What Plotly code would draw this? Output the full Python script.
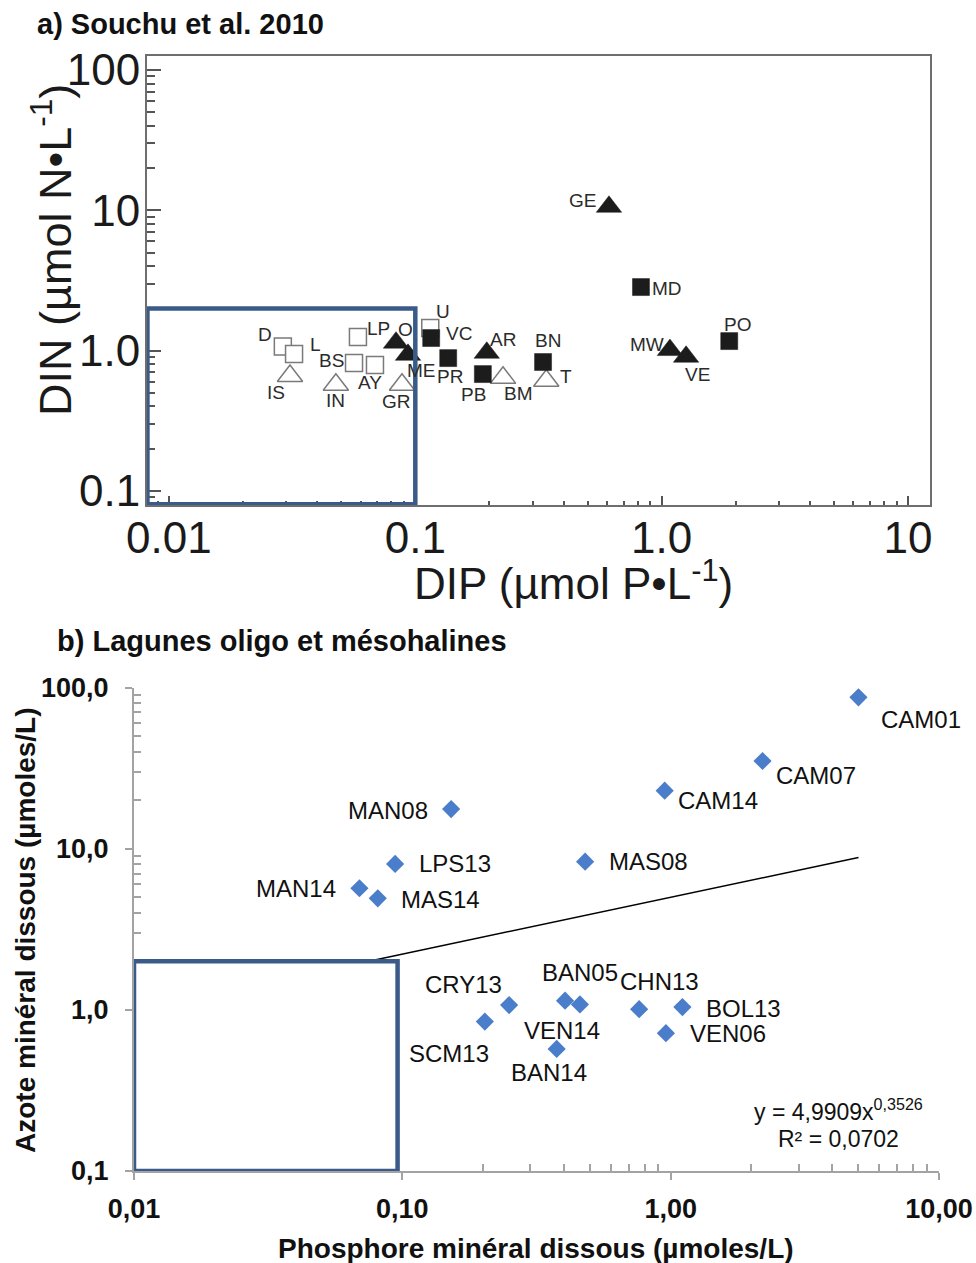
import numpy as np
import plotly.graph_objects as go

# ---------------- Panel a: Souchu et al. 2010 (DIP vs DIN, µmol/L) ----------------
open_sq_names = ["D", "L", "LP", "BS", "AY", "U"]
open_sq_dip = [0.029, 0.0322, 0.0585, 0.0564, 0.0686, 0.115]
open_sq_din = [1.07, 0.946, 1.25, 0.817, 0.789, 1.45]

open_tri_names = ["IS", "IN", "GR", "BM", "T"]
open_tri_dip = [0.031, 0.0476, 0.0883, 0.227, 0.34]
open_tri_din = [0.66, 0.571, 0.571, 0.64, 0.61]

fill_tri_names = ["O", "ME", "AR", "GE", "MW", "VE"]
fill_tri_dip = [0.0835, 0.0934, 0.195, 0.611, 1.08, 1.256]
fill_tri_din = [1.14, 0.934, 0.966, 10.6, 1.01, 0.905]

fill_sq_names = ["VC", "PR", "PB", "BN", "MD", "PO"]
fill_sq_dip = [0.116, 0.136, 0.188, 0.33, 0.824, 1.88]
fill_sq_din = [1.23, 0.885, 0.681, 0.83, 2.84, 1.17]

# ---------------- Panel b: oligo- and mesohaline lagoons ----------------
sites = ["CAM01", "CAM07", "CAM14", "MAN08", "LPS13", "MAS08", "MAN14", "MAS14",
         "CRY13", "SCM13", "BAN05", "VEN14", "CHN13", "BOL13", "VEN06", "BAN14"]
p_dissous = [5.01, 2.20, 0.95, 0.152, 0.094, 0.48, 0.0692, 0.081,
             0.25, 0.203, 0.404, 0.459, 0.763, 1.106, 0.96, 0.376]
n_dissous = [86.9, 35.0, 22.9, 17.6, 8.04, 8.3, 5.68, 4.92,
             1.07, 0.845, 1.14, 1.08, 1.01, 1.04, 0.716, 0.572]

# power-law fit y = a * x^b
fit_a = 4.9909
fit_b = 0.3526
fit_r2 = 0.0702

# tick labels
a_xticks = [0.01, 0.1, 1, 10]
a_xticktext = ["0.01", "0.1", "1.0", "10"]
a_yticks = [0.1, 1, 10, 100]
a_yticktext = ["0.1", "1.0", "10", "100"]
b_xticks = [0.01, 0.1, 1, 10]
b_xticktext = ["0,01", "0,10", "1,00", "10,00"]
b_yticks = [0.1, 1, 10, 100]
b_yticktext = ["0,1", "1,0", "10,0", "100,0"]

# label offsets in screen pixels (dx right, dy down) from each marker
a_offsets = {
    "D": (-18, -12), "L": (21, -10), "LP": (21, -9), "BS": (-23, -2), "AY": (-5, 17),
    "U": (13, -17), "VC": (28, -5), "O": (9, -13), "ME": (13, 16), "PR": (2, 18),
    "PB": (-9, 20), "BM": (15, 16), "AR": (16, -13), "BN": (5, -22), "T": (20, -4),
    "IS": (-14, 17), "IN": (0, 16), "GR": (-6, 17), "GE": (-26, -6), "MD": (26, 1),
    "MW": (-23, -6), "VE": (11, 18), "PO": (8, -17),
}
b_offsets = {
    "CAM01": (63, 22), "CAM07": (53, 15), "CAM14": (53, 10), "MAN08": (-63, 1),
    "LPS13": (60, 0), "MAS08": (63, 0), "MAN14": (-63, 0), "MAS14": (63, 1),
    "CRY13": (-46, -21), "SCM13": (-36, 32), "BAN05": (15, -28), "VEN14": (-18, 26),
    "CHN13": (20, -28), "BOL13": (61, 1), "VEN06": (62, 0), "BAN14": (-8, 24),
}

W, H = 976, 1263
FONT = "Liberation Sans, Arial, sans-serif"
BOX_BLUE = "#3a5b8a"


def minor_vals(lo_exp, hi_exp):
    return [m * 10.0 ** e for e in range(lo_exp, hi_exp) for m in range(2, 10)]


fig = go.Figure()

# panel a markers
fig.add_trace(go.Scatter(
    x=open_tri_dip, y=open_tri_din, mode="markers", xaxis="x", yaxis="y",
    marker=dict(symbol="triangle-up", size=22, color="white",
                line=dict(color="#7a7a7a", width=1.5)), showlegend=False))
fig.add_trace(go.Scatter(
    x=open_sq_dip, y=open_sq_din, mode="markers", xaxis="x", yaxis="y",
    marker=dict(symbol="square", size=17, color="white",
                line=dict(color="#7a7a7a", width=1.5)), showlegend=False))
fig.add_trace(go.Scatter(
    x=fill_tri_dip, y=fill_tri_din, mode="markers", xaxis="x", yaxis="y",
    marker=dict(symbol="triangle-up", size=22, color="#1c1c1c",
                line=dict(color="#1c1c1c", width=0.5)), showlegend=False))
fig.add_trace(go.Scatter(
    x=fill_sq_dip, y=fill_sq_din, mode="markers", xaxis="x", yaxis="y",
    marker=dict(symbol="square", size=17, color="#1c1c1c",
                line=dict(color="#1c1c1c", width=0.5)), showlegend=False))

# panel b: fitted power law, then the data
x_fit = np.logspace(np.log10(min(p_dissous)), np.log10(max(p_dissous)), 50)
fig.add_trace(go.Scatter(
    x=x_fit, y=fit_a * x_fit ** fit_b, mode="lines", xaxis="x2", yaxis="y2",
    line=dict(color="black", width=1.5), showlegend=False, hoverinfo="skip"))
fig.add_trace(go.Scatter(
    x=p_dissous, y=n_dissous, mode="markers", xaxis="x2", yaxis="y2",
    marker=dict(symbol="diamond", size=14, color="#4a7ecb", line=dict(width=0)),
    showlegend=False))

annotations = []
label_sets = [
    (open_sq_names, open_sq_dip, open_sq_din),
    (open_tri_names, open_tri_dip, open_tri_din),
    (fill_tri_names, fill_tri_dip, fill_tri_din),
    (fill_sq_names, fill_sq_dip, fill_sq_din),
]
for names, xs, ys in label_sets:
    for n, xv, yv in zip(names, xs, ys):
        dx, dy = a_offsets[n]
        annotations.append(dict(
            x=np.log10(xv), y=np.log10(yv), xref="x", yref="y", text=n, showarrow=False,
            xshift=dx, yshift=-dy, font=dict(family=FONT, size=19, color="#2b2b2b")))

for n, xv, yv in zip(sites, p_dissous, n_dissous):
    dx, dy = b_offsets[n]
    annotations.append(dict(
        x=np.log10(xv), y=np.log10(yv), xref="x2", yref="y2", text=n, showarrow=False,
        xshift=dx, yshift=-dy, font=dict(family=FONT, size=24, color="#111111")))


def px(xp):
    return xp / W


def py(yp):
    return 1 - yp / H


# titles and axis titles
annotations += [
    dict(x=px(35), y=py(24), xref="paper", yref="paper", xanchor="left", yanchor="middle",
         text="<b>a) Souchu et al. 2010</b>", showarrow=False,
         font=dict(family=FONT, size=29, color="#111111")),
    dict(x=px(52), y=py(250), xref="paper", yref="paper", xanchor="center", yanchor="middle",
         textangle=-90, text="DIN (µmol N•L<sup>-1</sup>)", showarrow=False,
         font=dict(family=FONT, size=45, color="#1a1a1a")),
    dict(x=px(573), y=py(580), xref="paper", yref="paper", xanchor="center", yanchor="middle",
         text="DIP (µmol P•L<sup>-1</sup>)", showarrow=False,
         font=dict(family=FONT, size=44, color="#1a1a1a")),
    dict(x=px(55), y=py(641), xref="paper", yref="paper", xanchor="left", yanchor="middle",
         text="<b>b) Lagunes oligo et mésohalines</b>", showarrow=False,
         font=dict(family=FONT, size=29, color="#111111")),
    dict(x=px(25), y=py(930), xref="paper", yref="paper", xanchor="center", yanchor="middle",
         textangle=-90, text="<b>Azote minéral dissous (µmoles/L)</b>", showarrow=False,
         font=dict(family=FONT, size=28, color="#111111")),
    dict(x=px(536), y=py(1248), xref="paper", yref="paper", xanchor="center", yanchor="middle",
         text="<b>Phosphore minéral dissous (µmoles/L)</b>", showarrow=False,
         font=dict(family=FONT, size=28, color="#111111")),
    dict(x=px(838), y=py(1110), xref="paper", yref="paper", xanchor="center", yanchor="middle",
         text="y = 4,9909x<sup>0,3526</sup>", showarrow=False,
         font=dict(family=FONT, size=23, color="#111111")),
    dict(x=px(838), y=py(1139), xref="paper", yref="paper", xanchor="center", yanchor="middle",
         text="R² = " + f"{fit_r2:.4f}".replace(".", ","), showarrow=False,
         font=dict(family=FONT, size=23, color="#111111")),
]

# highlighted low-nutrient boxes (shape coordinates on log axes are data values)
shapes = [
    dict(type="rect", xref="x", yref="y", layer="above",
         x0=0.00818, x1=0.1, y0=0.0805, y1=2.0,
         line=dict(color=BOX_BLUE, width=4.5), fillcolor="rgba(0,0,0,0)"),
    dict(type="rect", xref="x2", yref="y2", layer="above",
         x0=0.01, x1=0.096, y0=0.1, y1=2.0,
         line=dict(color=BOX_BLUE, width=4.5), fillcolor="white"),
]

top_axis_common = dict(
    type="log", showline=True, mirror=True, linecolor="#6e6e6e", linewidth=2,
    showgrid=False, zeroline=False, tickmode="array", tickcolor="#555555",
    tickwidth=1.5, ticks="inside", automargin=False,
)
bot_axis_common = dict(
    type="log", showline=True, mirror=False, linecolor="#a3a3a3", linewidth=2,
    showgrid=False, zeroline=False, tickmode="array", tickcolor="#a3a3a3",
    tickwidth=1.5, ticks="outside", ticklen=7, automargin=False,
)

fig.update_layout(
    width=W, height=H, margin=dict(l=0, r=0, t=0, b=0, autoexpand=False),
    paper_bgcolor="white", plot_bgcolor="white",
    xaxis=dict(
        **top_axis_common, domain=[px(147), px(930)], anchor="y",
        range=[-2.089, 1.089], tickvals=a_xticks, ticktext=a_xticktext, ticklen=9,
        ticklabelstandoff=-7,
        tickfont=dict(family=FONT, size=44, color="#1a1a1a"),
        minor=dict(ticks="inside", ticklen=4, tickcolor="#555555", tickmode="array",
                   tickvals=minor_vals(-3, 2)),
    ),
    yaxis=dict(
        **top_axis_common, domain=[py(505), py(56)], anchor="x",
        range=[-1.1, 2.1], tickvals=a_yticks, ticktext=a_yticktext, ticklen=14,
        ticklabelstandoff=-4,
        tickfont=dict(family=FONT, size=44, color="#1a1a1a"),
        minor=dict(ticks="inside", ticklen=8, tickcolor="#555555", tickmode="array",
                   tickvals=minor_vals(-2, 3)),
    ),
    xaxis2=dict(
        **bot_axis_common, domain=[px(134), px(939)], anchor="y2",
        range=[-2, 1], tickvals=b_xticks, ticktext=b_xticktext,
        ticklabelstandoff=6,
        tickfont=dict(family=FONT, size=27, color="#111111", weight="bold"),
        minor=dict(ticks="inside", ticklen=7, tickcolor="#a3a3a3", tickmode="array",
                   tickvals=minor_vals(-2, 1)),
    ),
    yaxis2=dict(
        **bot_axis_common, domain=[py(1171), py(687.5)], anchor="x2",
        range=[-1, 2], tickvals=b_yticks, ticktext=b_yticktext,
        ticklabelstandoff=11,
        tickfont=dict(family=FONT, size=27, color="#111111", weight="bold"),
        minor=dict(ticks="inside", ticklen=7, tickcolor="#a3a3a3", tickmode="array",
                   tickvals=minor_vals(-1, 2)),
    ),
    annotations=annotations,
    shapes=shapes,
)

fig.write_html("out.html")
